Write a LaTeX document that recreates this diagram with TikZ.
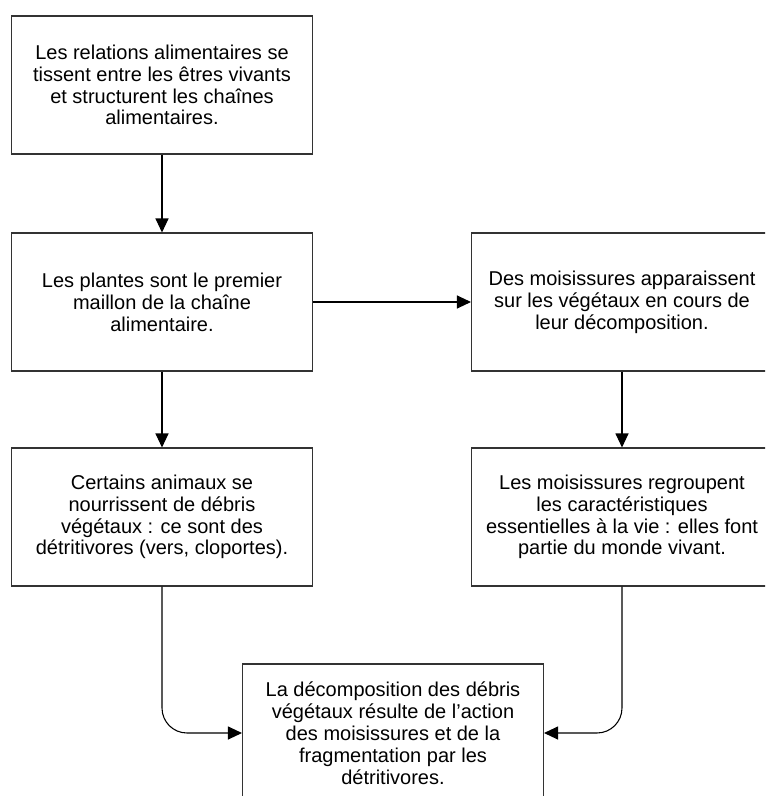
\documentclass[tikz,border=0pt]{standalone}
\usepackage{fontspec}
\setmainfont{Liberation Sans}
\usepackage{xcolor}
\usetikzlibrary{arrows.meta,positioning}
\definecolor{boxline}{HTML}{333333}
\tikzset{
  factbox/.style={draw=boxline,line width=0.8pt,fill=white,
    minimum width=225.75pt,minimum height=103.5pt,align=center,
    font=\fontsize{15}{16.4}\selectfont,inner sep=0pt},
  flowarrow/.style={-{Triangle[length=10.5pt,width=9.75pt]},line width=0.8pt,draw=black}
}
\begin{document}
\begin{tikzpicture}[x=0.75pt,y=-0.75pt]
\useasboundingbox (0,0) rectangle (765,796);
\clip (0,0) rectangle (765,796);

\node[factbox] (relations) at (162,85) {Les relations alimentaires se\\tissent entre les êtres vivants\\et structurent les chaînes\\alimentaires.};
\node[factbox] (plantes) at (162,302) {Les plantes sont le premier\\maillon de la chaîne\\alimentaire.};
\node[factbox] (moisissures) at (622,302) {Des moisissures apparaissent\\sur les végétaux en cours de\\leur décomposition.};
\node[factbox] (animaux) at (162,517) {Certains animaux se\\nourrissent de débris\\végétaux : ce sont des\\détritivores (vers, cloportes).};
\node[factbox] (vivant) at (622,517) {Les moisissures regroupent\\les caractéristiques\\essentielles à la vie : elles font\\partie du monde vivant.};
\node[factbox] (decomp) at (393,733) {La décomposition des débris\\végétaux résulte de l’action\\des moisissures et de la\\fragmentation par les\\détritivores.};

\draw[flowarrow] (relations) -- (plantes);
\draw[flowarrow] (plantes) -- (moisissures);
\draw[flowarrow] (plantes) -- (animaux);
\draw[flowarrow] (moisissures) -- (vivant);
\draw[flowarrow,rounded corners=18.75pt] (animaux.south) |- (decomp.west);
\draw[flowarrow,rounded corners=18.75pt] (vivant.south) |- (decomp.east);
\end{tikzpicture}
\end{document}
